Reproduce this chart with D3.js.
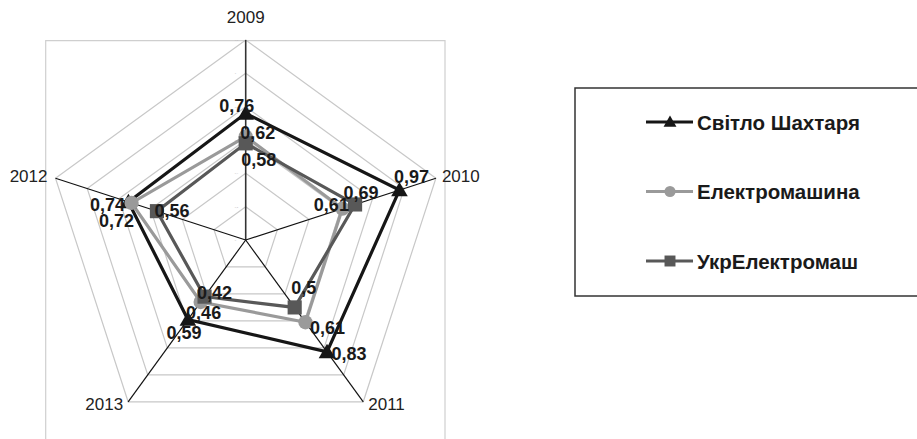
<!DOCTYPE html>
<html lang="uk">
<head>
<meta charset="UTF-8">
<title>Radar</title>
<script src="https://d3js.org/d3.v7.min.js"></script>
<style>
  body { margin: 0; background: #fff; }
  svg { display: block; font-family: "Liberation Sans", Arial, sans-serif; }
</style>
</head>
<body>
<div id="chart"></div>
<script>
// data
const years = ["2009", "2010", "2011", "2013", "2012"];
const svitloShakhtaria = [0.76, 0.97, 0.83, 0.59, 0.74];
const elektromashyna = [0.62, 0.61, 0.61, 0.46, 0.72];
const ukrElektromash = [0.58, 0.69, 0.5, 0.42, 0.56];
const seriesNames = ["Світло Шахтаря", "Електромашина", "УкрЕлектромаш"];
const ringTicks = [0, 0.2, 0.4, 0.6, 0.8, 1, 1.2];

// layout
const W = 917, H = 439;
const cx = 245.7, cy = 240, R = 200;
const colors = ["#161616", "#9a9a9a", "#585858"];
const symbols = [d3.symbolTriangle, d3.symbolCircle, d3.symbolSquare];
const symSize = [120, 160, 200];
// label offsets (center of text relative to point)
const labelOffsets = [
    [[-9, -7], [12, -13], [22, 2], [-4, 13], [-21, 3]],
    [[12, -4], [-11, -4], [22, 6], [3, 11], [-15, 18]],
    [[13, 17], [6, -11], [9, -19], [10, -4], [15, 0]]
];
const axisLabelPos = [
    {dx: 0, dy: -23, anchor: "middle"},
    {dx: 6, dy: -2, anchor: "start"},
    {dx: 5, dy: 3, anchor: "start"},
    {dx: -5, dy: 3, anchor: "end"},
    {dx: -8, dy: -2, anchor: "end"}
];

const allSeries = [svitloShakhtaria, elektromashyna, ukrElektromash];

const r = d3.scaleLinear().domain([0, 1.2]).range([0, R]);
const angle = d3.scaleLinear().domain([0, years.length]).range([0, 2 * Math.PI]);

function pt(i, v) {
    const a = angle(i);
    return [cx + r(v) * Math.sin(a), cy - r(v) * Math.cos(a)];
}

const svg = d3.select("#chart").append("svg")
    .attr("width", W)
    .attr("height", H);

// plot area border
svg.append("path")
    .attr("d", `M45.7,${H + 5}V40.7H445V${H + 5}`)
    .attr("fill", "none")
    .attr("stroke", "#cfcfcf")
    .attr("stroke-width", 1.2);

const g = svg.append("g").attr("transform", `translate(${cx},${cy})`);

// rings
const radial = d3.lineRadial()
    .angle((d, i) => angle(i))
    .radius(d => r(d))
    .curve(d3.curveLinearClosed);

g.selectAll(".ring")
    .data(ringTicks.slice(1))
    .join("path")
    .attr("class", "ring")
    .attr("d", t => radial(years.map(() => t)))
    .attr("fill", "none")
    .attr("stroke", "#c8c8c8")
    .attr("stroke-width", 1.2);

// spokes
g.selectAll(".spoke")
    .data(years)
    .join("line")
    .attr("class", "spoke")
    .attr("x1", 0).attr("y1", 0)
    .attr("x2", (d, i) => r(1.2) * Math.sin(angle(i)))
    .attr("y2", (d, i) => -r(1.2) * Math.cos(angle(i)))
    .attr("stroke", (d, i) => i === 0 ? "#333" : "#111")
    .attr("stroke-width", (d, i) => i === 0 ? 1.6 : 1.2);

// tiny tick labels along first axis
g.selectAll(".tick")
    .data(ringTicks)
    .join("text")
    .attr("class", "tick")
    .attr("x", -11)
    .attr("y", d => -r(d) + 1)
    .attr("font-size", 2.5)
    .attr("fill", "#bbb")
    .text(d => String(d).replace(".", ","));

// axis labels
svg.selectAll(".axlab")
    .data(years)
    .join("text")
    .attr("class", "axlab")
    .attr("x", (d, i) => pt(i, 1.2)[0] + axisLabelPos[i].dx)
    .attr("y", (d, i) => pt(i, 1.2)[1] + axisLabelPos[i].dy)
    .attr("text-anchor", (d, i) => axisLabelPos[i].anchor)
    .attr("dominant-baseline", "central")
    .attr("font-size", 17)
    .attr("fill", "#222")
    .text(d => d);

// series lines and markers
allSeries.forEach((vals, s) => {
    g.append("path")
        .attr("d", radial(vals))
        .attr("fill", "none")
        .attr("stroke", colors[s])
        .attr("stroke-width", 3.2)
        .attr("stroke-linejoin", "miter");

    svg.selectAll(`.mk${s}`)
        .data(vals)
        .join("path")
        .attr("class", `mk${s}`)
        .attr("transform", (v, i) => `translate(${pt(i, v)[0]},${pt(i, v)[1] + (s === 0 ? 1.5 : 0)})`)
        .attr("d", d3.symbol().type(symbols[s]).size(symSize[s]))
        .attr("fill", colors[s]);
});

// data labels
allSeries.forEach((vals, s) => {
    svg.selectAll(`.lb${s}`)
        .data(vals)
        .join("text")
        .attr("class", `lb${s}`)
        .attr("x", (v, i) => pt(i, v)[0] + labelOffsets[s][i][0])
        .attr("y", (v, i) => pt(i, v)[1] + labelOffsets[s][i][1])
        .attr("text-anchor", "middle")
        .attr("dominant-baseline", "central")
        .attr("font-size", 18)
        .attr("font-weight", "bold")
        .attr("fill", "#1a1a1a")
        .text(v => String(v).replace(".", ","));
});

// legend
const legend = svg.append("g");
legend.append("rect")
    .attr("x", 575).attr("y", 88)
    .attr("width", 350).attr("height", 208)
    .attr("fill", "none")
    .attr("stroke", "#333")
    .attr("stroke-width", 1.5);

const legY = d3.scalePoint().domain(seriesNames).range([122, 261]);

seriesNames.forEach((name, s) => {
    const y = legY(name);
    legend.append("line")
        .attr("x1", 646).attr("x2", 693)
        .attr("y1", y).attr("y2", y)
        .attr("stroke", colors[s])
        .attr("stroke-width", 3);
    legend.append("path")
        .attr("transform", `translate(670,${y + (s === 0 ? 1 : 0)})`)
        .attr("d", d3.symbol().type(symbols[s]).size(symSize[s] * 0.6))
        .attr("fill", colors[s]);
    legend.append("text")
        .attr("x", 697)
        .attr("y", y)
        .attr("dominant-baseline", "central")
        .attr("font-size", 20.5)
        .attr("font-weight", "bold")
        .attr("fill", "#1a1a1a")
        .text(name);
});
</script>
</body>
</html>
